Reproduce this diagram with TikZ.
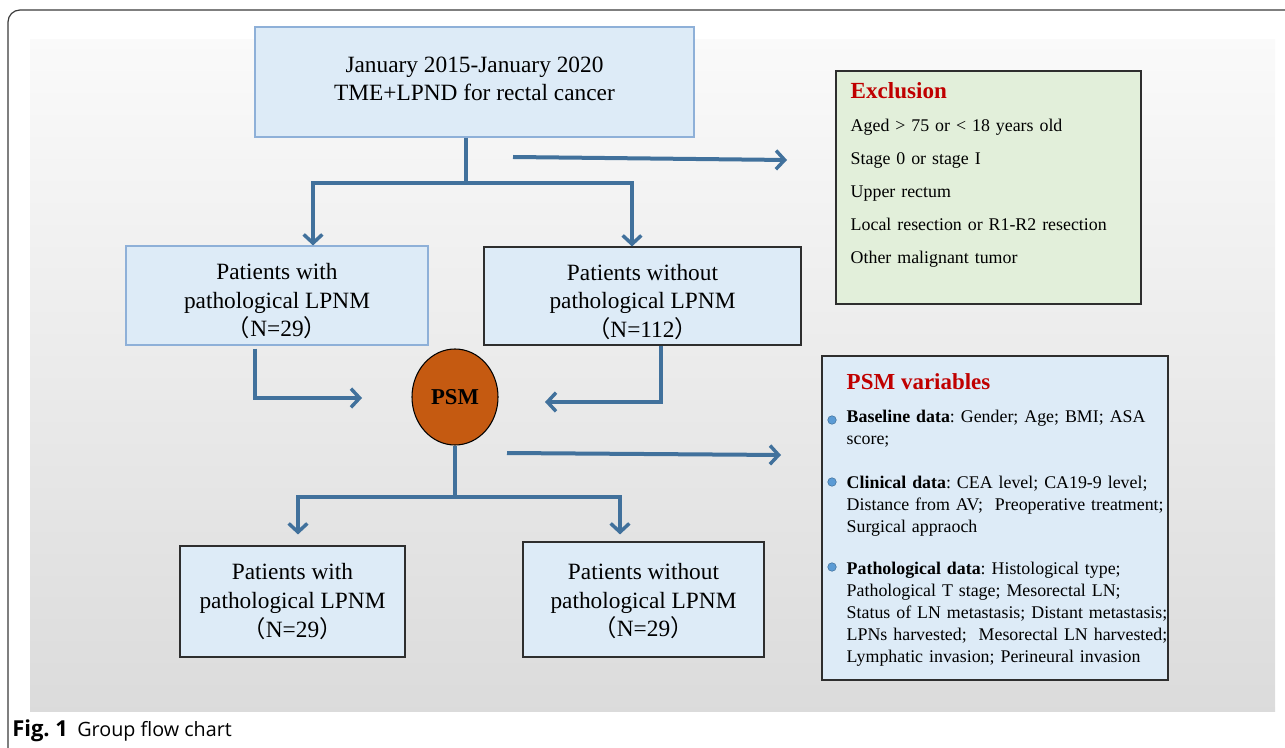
\documentclass[tikz,border=0pt]{standalone}
\usepackage{fontspec}
\setmainfont{Liberation Serif}
\newfontfamily\cjk{Noto Sans CJK SC}
\newfontfamily\capfont{Open Sans}
\usetikzlibrary{arrows.meta,shapes.geometric,calc}
\definecolor{arrowblue}{HTML}{41719C}
\definecolor{boxblue}{HTML}{DDEBF7}
\definecolor{lightborder}{HTML}{8EB0D8}
\definecolor{darkborder}{HTML}{2E2E2E}
\definecolor{boxgreen}{HTML}{E2EFDA}
\definecolor{exred}{HTML}{C00000}
\definecolor{psmorange}{HTML}{C55A11}
\definecolor{bulletblue}{HTML}{5B9BD5}
\definecolor{bulletedge}{HTML}{41719C}
\definecolor{framegray}{HTML}{3A3A3A}
\newcommand{\fw}[1]{\mbox{\cjk #1}}
\tikzset{
  flow/.style={draw=arrowblue, line width=3pt},
  arr/.style={flow, -{Straight Barb[length=6.5pt,width=14pt,line width=2.6pt]}},
  box/.style={draw, line width=0.8pt, fill=boxblue, align=center, inner sep=0pt,
              font=\fontsize{17.5}{21.4}\selectfont},
}
\frenchspacing
\begin{document}
\begin{tikzpicture}[x=0.75pt,y=-0.75pt]
\useasboundingbox (0,0) rectangle (1285,748);
% background and frame
\shade[top color=black!2, bottom color=black!14] (30,40) rectangle (1275,711);
\draw[framegray, line width=0.9pt, rounded corners=9pt] (8,760) -- (8,10) -- (1300,10);
\node[anchor=west, inner sep=0pt, font=\capfont\fontsize{14.8}{17}\selectfont] (cap) at (12,731)
  {{\fontsize{16.5}{17}\selectfont\textbf{Fig. 1}}\hspace{7pt}Group flow chart};

% boxes
\node[box, draw=lightborder, minimum width=329.25pt, minimum height=82.5pt] (top) at (474.5,82)
  {January 2015-January 2020\\TME+LPND for rectal cancer\rule[-5pt]{0pt}{5pt}};
\node[box, draw=lightborder, minimum width=226.5pt, minimum height=74.25pt] (m1) at (277,295.5)
  {\rule{0pt}{21pt}Patients with\\pathological LPNM\\\fw{（}N=29\fw{）}};
\node[box, draw=darkborder, minimum width=237.75pt, minimum height=73.5pt] (m2) at (642.5,296)
  {\rule{0pt}{21pt}Patients without\\pathological LPNM\\\fw{（}N=112\fw{）}};
\node[box, draw=darkborder, minimum width=168.75pt, minimum height=83.25pt] (b1) at (292.5,601.5)
  {Patients with\\pathological LPNM\\\fw{（}N=29\fw{）}};
\node[box, draw=darkborder, minimum width=180.75pt, minimum height=86.25pt] (b2) at (643.5,599.5)
  {\rule{0pt}{15pt}Patients without\\pathological LPNM\\\fw{（}N=29\fw{）}};
\node[ellipse, draw=black, line width=0.8pt, fill=psmorange, minimum width=64.5pt, minimum height=72pt,
      inner sep=0pt, font=\fontsize{17}{19}\selectfont\bfseries] (psm) at (455,397) {PSM};

% exclusion box
\node[draw=darkborder, line width=0.8pt, fill=boxgreen, minimum width=228.75pt, minimum height=174.75pt,
      inner sep=0pt] (excl) at (988.5,187.5) {};
\node[anchor=north west, inner sep=0pt, text width=215pt, align=left,
      font=\fontsize{13.4}{24.75}\selectfont] (exclt) at ($(excl.north west)+(15,12)$)
  {{\fontsize{17.3}{20}\selectfont\bfseries\color{exred}Exclusion\par}
   Aged > 75 or < 18 years old\par
   Stage 0 or stage I\par
   Upper rectum\par
   Local resection or R1-R2 resection\par
   Other malignant tumor};

% PSM variables box
\node[draw=darkborder, line width=0.8pt, fill=boxblue, minimum width=259.5pt, minimum height=243pt,
      inner sep=0pt] (vars) at (995,518) {};
\node[anchor=north west, inner sep=0pt, text width=250pt, align=left,
      font=\fontsize{13.4}{16.5}\selectfont] (varst) at ($(vars.north west)+(25,18)$)
  {{\fontsize{17.2}{20}\selectfont\bfseries\color{exred}PSM variables\par}\vspace{8pt}
   \textbf{Baseline data}: Gender; Age; BMI; ASA\newline score;\par\vspace{17pt}
   \textbf{Clinical data}: CEA level; CA19-9 level;\newline Distance from AV;\ \ Preoperative treatment;\newline Surgical appraoch\par\vspace{14.5pt}
   \textbf{Pathological data}: Histological type;\newline Pathological T stage; Mesorectal LN;\newline
   Status of LN metastasis; Distant metastasis;\newline LPNs harvested;\ \ Mesorectal LN harvested;\newline
   Lymphatic invasion; Perineural invasion};
\filldraw[fill=bulletblue, draw=bulletedge, line width=0.4pt] (832,420) circle (3.2pt);
\filldraw[fill=bulletblue, draw=bulletedge, line width=0.4pt] (832,482) circle (3.2pt);
\filldraw[fill=bulletblue, draw=bulletedge, line width=0.4pt] (832,567) circle (3.2pt);

% connectors
\coordinate (j1) at (466,183);
\draw[flow] (top.south -| j1) -- (j1);
\draw[arr] (j1) -| ($(m1.north)+(36,0)$);
\draw[arr] (j1) -| ($(m2.north)+(-10.5,0)$);

\coordinate (e1) at (513,157);
\coordinate (e2) at (787,160);
\draw[arr] (e1) -- (e2);

\coordinate (p1) at (362,398);
\coordinate (p2) at (545,402);
\draw[arr] ($(m1.south)+(-22,3)$) |- (p1);
\draw[arr] ($(m2.south)+(18.5,0)$) |- (p2);

\coordinate (j2) at (455,497);
\draw[flow] (psm.south) -- (j2);
\draw[arr] (j2) -| ($(b1.north)+(5.5,-11)$);
\draw[arr] (j2) -| ($(b2.north)+(-23.5,-7)$);

\coordinate (v1) at (507,453);
\coordinate (v2) at (781,455);
\draw[arr] (v1) -- (v2);
\end{tikzpicture}
\end{document}
